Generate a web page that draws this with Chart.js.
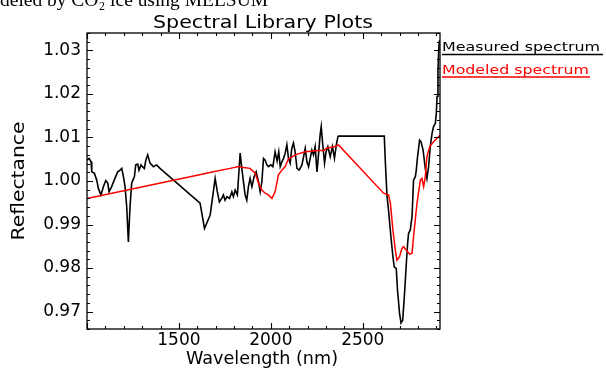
<!DOCTYPE html>
<html>
<head>
<meta charset="utf-8">
<script src="https://cdn.jsdelivr.net/npm/chart.js@4.4.1/dist/chart.umd.min.js"></script>
<style>
  html, body { margin: 0; padding: 0; background: #fff; }
  #wrap { position: relative; width: 606px; height: 369px; overflow: hidden; }
  canvas { display: block; }
</style>
</head>
<body>
<div id="wrap"><canvas id="c" width="606" height="369"></canvas></div>
<script>
// ---- data ----
const measuredWl = [1000,1011,1022,1026,1040,1053,1062,1076,1089,1102,1113,1120,1134,1152,1167,1180,1189,1198,1207,1216,1225,1234,1243,1258,1265,1276,1283,1294,1301,1312,1320,1330,1343,1361,1379,1397,
  1615,1639,1670,1697,1709,1720,1733,1742,1751,1761,1775,1788,1796,1806,1818,1833,1842,1851,1860,1869,1878,1887,1897,1909,1920,1933,1942,1951,1960,1969,1978,1987,2000,2011,
  2023,2034,2043,2051,2060,2069,2078,2087,2096,2105,2114,2123,2132,2142,2154,2169,2178,2187,2196,2205,2214,2223,2232,2241,2251,2259,2268,2274,2281,2292,2300,2310,2323,2335,2346,2356,2365,2368,
  2617,2623,2632,2640,2653,2664,2671,2682,2689,2700,2708,2717,2726,2737,2744,2749,2758,2768,2776,2786,2791,2798,2809,2817,2828,2840,2849,2858,2867,2877,2885,2895,2900,2904,2909,2913,2916,2920];
const measuredR = [1.0048,1.0052,1.0044,1.0021,1.0018,1.0002,0.9983,0.9968,0.9987,1.0001,0.9995,0.9975,0.9987,1.0006,1.0021,1.0025,1.0029,1.0010,0.9987,0.9941,0.9860,0.9941,0.9995,1.0010,1.0037,1.0039,1.0025,1.0037,1.0033,1.0029,1.0048,1.0060,1.0041,1.0033,1.0037,1.0029,
  0.9949,0.9891,0.9922,1.0006,0.9975,0.9952,0.9960,0.9968,0.9956,0.9964,0.9960,0.9975,0.9964,0.9979,0.9968,1.0064,1.0029,0.9998,0.9968,0.9956,0.9987,1.0006,0.9987,1.0010,1.0021,0.9998,0.9975,0.9998,1.0052,1.0048,1.0037,1.0033,1.0037,1.0033,
  1.0067,1.0046,1.0067,1.0033,1.0044,1.0052,1.0064,1.0083,1.0052,1.0041,1.0075,1.0087,1.0067,1.0029,1.0025,1.0037,1.0056,1.0075,1.0044,1.0033,1.0052,1.0071,1.0060,1.0079,1.0021,1.0060,1.0106,1.0125,1.0090,1.0041,1.0067,1.0079,1.0056,1.0079,1.0052,1.0083,1.0102,1.0103,
  1.0103,1.0041,0.9964,0.9933,0.9872,0.9826,0.9803,0.9799,0.9749,0.9696,0.9674,0.9680,0.9734,0.9811,0.9857,0.9880,0.9887,0.9918,1.0002,1.0010,1.0025,1.0056,1.0094,1.0090,1.0071,1.0029,1.0006,1.0033,1.0079,1.0110,1.0125,1.0133,1.0156,1.0194,1.0255,1.0301,1.0320,1.0324];

const modeledWl = [1000,1606,1688,1779,1824,1851,1887,1915,1933,1951,1969,1987,2006,2023,2041,2060,2078,2096,2114,2132,2187,2259,2287,2305,2341,2368,2613,2640,2650,2664,2677,2686,2700,2713,2722,2737,2755,2768,2776,2795,2813,2822,2831,2840,2849,2864,2885,2913,2920];
const modeledR = [0.9960,1.0014,1.0021,1.0029,1.0033,1.0031,1.0029,1.0018,0.9995,0.9979,0.9972,0.9968,0.9960,0.9975,1.0014,1.0025,1.0033,1.0051,1.0055,1.0060,1.0067,1.0070,1.0070,1.0076,1.0078,1.0083,0.9972,0.9968,0.9949,0.9887,0.9841,0.9818,0.9826,0.9845,0.9849,0.9841,0.9832,0.9834,0.9872,0.9949,1.0002,1.0006,0.9987,1.0010,1.0056,1.0079,1.0090,1.0102,1.0106];

const xTickValues = [1500, 2000, 2500];
const yTickValues = [0.97, 0.98, 0.99, 1.00, 1.01, 1.02, 1.03];

const seriesNames = ['Measured spectrum', 'Modeled spectrum'];
const titleText = 'Spectral Library Plots';
const xTitle = 'Wavelength (nm)';
const yTitle = 'Reflectance';
const captionText = 'deled by CO\u2082 ice using MELSUM';

// ---- helpers ----
function fitText(ctx, text, x, y, width, font, color, align) {
  ctx.save();
  ctx.font = font;
  ctx.fillStyle = color;
  ctx.textBaseline = 'alphabetic';
  ctx.textAlign = 'left';
  const w = ctx.measureText(text).width;
  const sx = width / w;
  let left = x;
  if (align === 'center') left = x - width / 2;
  ctx.translate(left, y);
  ctx.scale(sx, 1);
  ctx.fillText(text, 0, 0);
  ctx.restore();
}

const overlay = {
  id: 'overlay',
  afterDraw(chart) {
    const { ctx, chartArea: a, scales: { x, y } } = chart;
    ctx.save();
    ctx.strokeStyle = '#000';
    ctx.lineWidth = 1.3;
    ctx.strokeRect(a.left, a.top, a.right - a.left, a.bottom - a.top);
    ctx.lineWidth = 1.1;
    ctx.beginPath();
    for (let v = 1000; v <= 2900; v += 100) {
      const px = Math.round(x.getPixelForValue(v)) + 0.5;
      const len = (v % 500 === 0) ? 6 : 3;
      ctx.moveTo(px, a.bottom); ctx.lineTo(px, a.bottom - len);
      ctx.moveTo(px, a.top); ctx.lineTo(px, a.top + len);
    }
    for (let i = 0; i <= 34; i++) {
      const v = 0.966 + i * 0.002;
      const py = Math.round(y.getPixelForValue(v)) + 0.5;
      const major = Math.abs(Math.round(v * 100) - v * 100) < 1e-6;
      const len = major ? 6 : 3;
      ctx.moveTo(a.left, py); ctx.lineTo(a.left + len, py);
      ctx.moveTo(a.right, py); ctx.lineTo(a.right - len, py);
    }
    ctx.stroke();
    ctx.restore();

    // title
    fitText(ctx, titleText, 263, 28, 220, '18px "DejaVu Sans"', '#000', 'center');
    // axis titles
    fitText(ctx, xTitle, 262, 363.5, 152, '17px "DejaVu Sans"', '#000', 'center');
    ctx.save();
    ctx.translate(24, 181);
    ctx.rotate(-Math.PI / 2);
    fitText(ctx, yTitle, 0, 0, 119, '17px "DejaVu Sans"', '#000', 'center');
    ctx.restore();

    // legend (IDL style, underlined)
    const ds = chart.data.datasets;
    fitText(ctx, ds[0].label, 442, 51, 158, '13px "DejaVu Sans"', ds[0].borderColor, 'left');
    fitText(ctx, ds[1].label, 442, 73.5, 147, '13px "DejaVu Sans"', ds[1].borderColor, 'left');
    ctx.save();
    ctx.lineWidth = 1.3;
    ctx.strokeStyle = ds[0].borderColor;
    ctx.beginPath(); ctx.moveTo(442, 54.5); ctx.lineTo(603, 54.5); ctx.stroke();
    ctx.strokeStyle = ds[1].borderColor;
    ctx.beginPath(); ctx.moveTo(442, 77); ctx.lineTo(590, 77); ctx.stroke();
    ctx.restore();

    // cropped caption from the source page
    fitText(ctx, captionText, 0, 6, 268, '19px "Liberation Serif"', '#000', 'left');
  }
};

Chart.defaults.font.family = '"DejaVu Sans"';
Chart.defaults.color = '#000';

new Chart(document.getElementById('c'), {
  type: 'line',
  data: {
    datasets: [
      {
        label: seriesNames[0],
        data: measuredWl.map((w, i) => ({ x: w, y: measuredR[i] })),
        borderColor: '#000000',
        borderWidth: 1.6,
        pointRadius: 0,
        tension: 0,
        fill: false,
        order: 2
      },
      {
        label: seriesNames[1],
        data: modeledWl.map((w, i) => ({ x: w, y: modeledR[i] })),
        borderColor: '#ff0000',
        borderWidth: 1.5,
        pointRadius: 0,
        tension: 0,
        fill: false,
        order: 1
      }
    ]
  },
  options: {
    responsive: false,
    animation: false,
    devicePixelRatio: 1,
    layout: { padding: { top: 33, right: 166, left: 0, bottom: 0 } },
    plugins: { legend: { display: false }, title: { display: false }, tooltip: { enabled: false } },
    scales: {
      x: {
        type: 'linear',
        min: 1000,
        max: 2920,
        grid: { display: false, drawTicks: false },
        border: { display: false },
        afterBuildTicks: s => { s.ticks = xTickValues.map(v => ({ value: v })); },
        afterFit: s => { s.height = 40; },
        ticks: {
          autoSkip: false, maxRotation: 0, padding: 1,
          font: { size: 17 },
          callback: v => String(v)
        }
      },
      y: {
        type: 'linear',
        min: 0.966,
        max: 1.034,
        grid: { display: false, drawTicks: false },
        border: { display: false },
        afterBuildTicks: s => { s.ticks = yTickValues.map(v => ({ value: v })); },
        afterFit: s => { s.width = 87; },
        ticks: {
          autoSkip: false, padding: 6,
          font: { size: 17 },
          callback: v => Number(v).toFixed(2)
        }
      }
    }
  },
  plugins: [overlay]
});
</script>
</body>
</html>
